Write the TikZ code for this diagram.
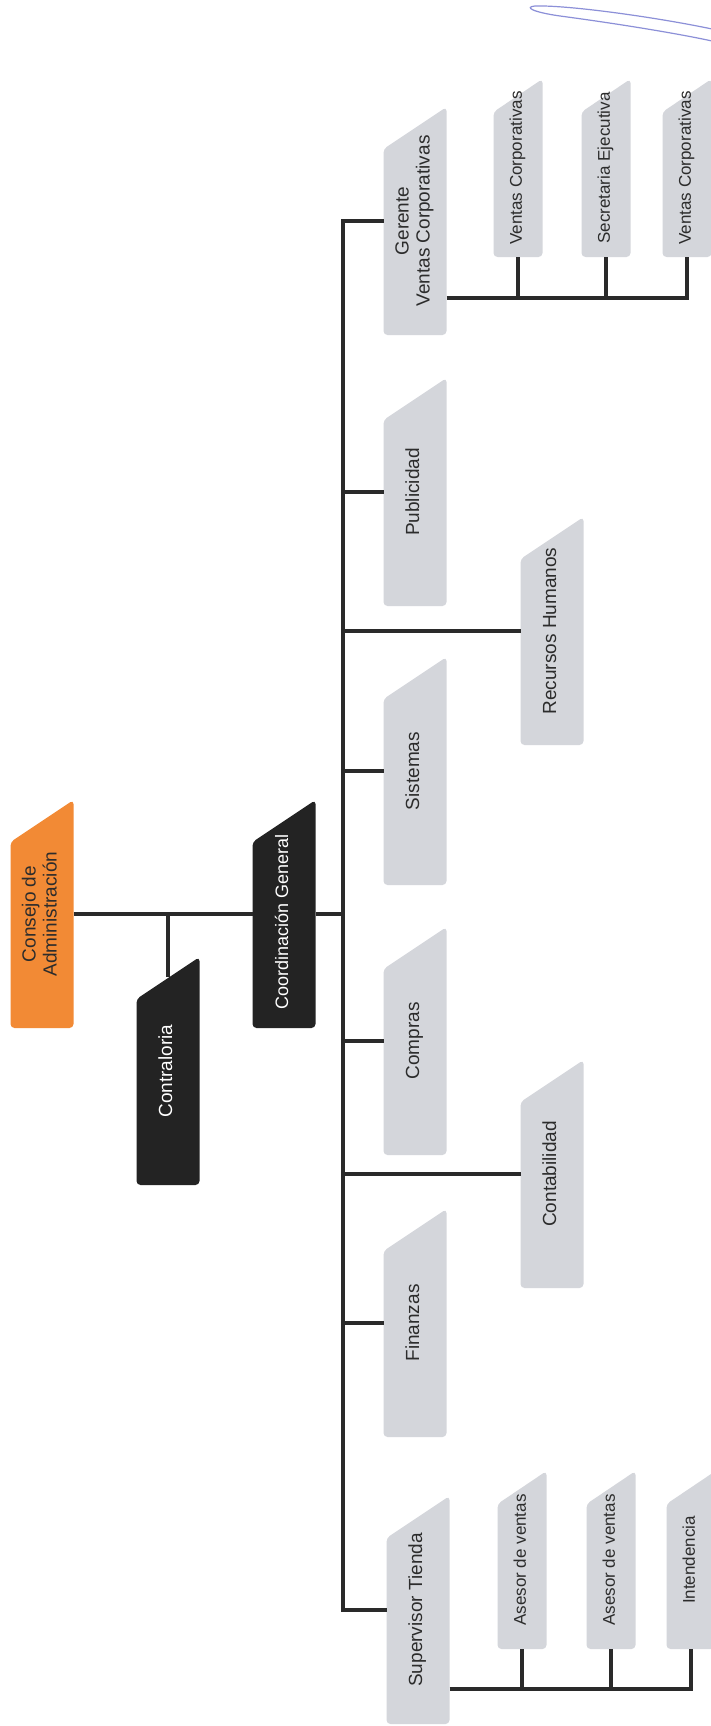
\documentclass[tikz,border=0pt]{standalone}
\usepackage{fontspec}
\setmainfont{Liberation Sans}
\usepackage{tikz}

\definecolor{orgorange}{HTML}{F28A35}
\definecolor{orgblack}{HTML}{232323}
\definecolor{orggray}{HTML}{D4D6DB}
\definecolor{orgline}{HTML}{2A2A2A}
\definecolor{orgtext}{HTML}{2C2C2C}
\definecolor{penblue}{HTML}{8C90D8}

\newcommand{\vlabel}[1]{\rotatebox{90}{\begin{tabular}{@{}c@{}}#1\end{tabular}}}

\begin{document}
\begin{tikzpicture}[x=1pt, y=-1pt, every node/.style={inner sep=0pt, outer sep=0pt, fill=white, text=orgtext, font=\fontsize{19}{21}\selectfont}, card/.style 2 args={path picture={\fill[#1, rounded corners=4pt] (path picture bounding box.south west) -- (path picture bounding box.south east) -- (path picture bounding box.north east) -- ([yshift=-#2]path picture bounding box.north west) -- cycle;}}, big/.style={card={#1}{42pt}, minimum width=63pt, minimum height=228pt}, big/.default=orggray, small/.style={card={orggray}{33pt}, minimum width=49pt, minimum height=178pt, font=\fontsize{17}{19}\selectfont}, link/.style={draw=orgline, line width=3.4pt}]
    \path[use as bounding box, fill=white] (0,0) rectangle (710,1726);

    \node[big=orgorange] (CA) at (42,914) {\vlabel{Consejo de\\Administración}};
    \node[big=orgblack, text=white] (CT) at (168,1071) {\vlabel{Contraloria}};
    \node[big=orgblack, text=white, font=\fontsize{18}{20}\selectfont] (CG) at (284,914) {\vlabel{Coordinación General\hspace*{16pt}}};

    \node[big] (GV) at (415,221) {\vlabel{Gerente\\Ventas Corporativas}};
    \node[big] (PU) at (415,492) {\vlabel{Publicidad}};
    \node[big] (SI) at (415,771) {\vlabel{Sistemas}};
    \node[big] (CO) at (415,1041) {\vlabel{Compras}};
    \node[big] (FI) at (415,1323) {\vlabel{Finanzas}};
    \node[big] (ST) at (418,1610) {\vlabel{Supervisor Tienda}};
    \node[big] (RH) at (552,631) {\vlabel{Recursos Humanos}};
    \node[big] (CB) at (552,1174) {\vlabel{Contabilidad}};

    \node[small] (V1) at (518,168) {\vlabel{Ventas Corporativas}};
    \node[small] (SE) at (606,168) {\vlabel{Secretaria Ejecutiva}};
    \node[small] (V2) at (687,168) {\vlabel{Ventas Corporativas}};
    \node[small] (A1) at (522,1560) {\vlabel{Asesor de ventas}};
    \node[small] (A2) at (611,1560) {\vlabel{Asesor de ventas}};
    \node[small] (IN) at (691,1560) {\vlabel{Intendencia}};

    \coordinate (T) at (343,914);
    \coordinate (BT) at (0,298);
    \coordinate (BB) at (0,1689);

    \draw[link] (CA.east) -- (CG.west);
    \draw[link] (CA.east -| CT.north) -- ([yshift=-20pt]CT.north);
    \draw[link] (CG.east) -- (T);
    \draw[link] (GV.west) -- (GV.west -| T) -- (ST.west -| T) -- (ST.west);
    \draw[link] (PU.west -| T) -- (PU.west);
    \draw[link] (SI.west -| T) -- (SI.west);
    \draw[link] (CO.west -| T) -- (CO.west);
    \draw[link] (FI.west -| T) -- (FI.west);
    \draw[link] (RH.west -| T) -- (RH.west);
    \draw[link] (CB.west -| T) -- (CB.west);

    \draw[link] (GV.east |- BT) -| (V2.south);
    \draw[link] (V1.south) -- (V1.south |- BT);
    \draw[link] (SE.south) -- (SE.south |- BT);
    \draw[link] (ST.east |- BB) -| (IN.south);
    \draw[link] (A1.south) -- (A1.south |- BB);
    \draw[link] (A2.south) -- (A2.south |- BB);

    \draw[penblue, line width=1.2pt] (712,29) .. controls (660,18) and (570,5) .. (535,6) .. controls (524,7) and (532,12) .. (560,16) .. controls (620,24) and (680,34) .. (712,41);
\end{tikzpicture}
\end{document}
